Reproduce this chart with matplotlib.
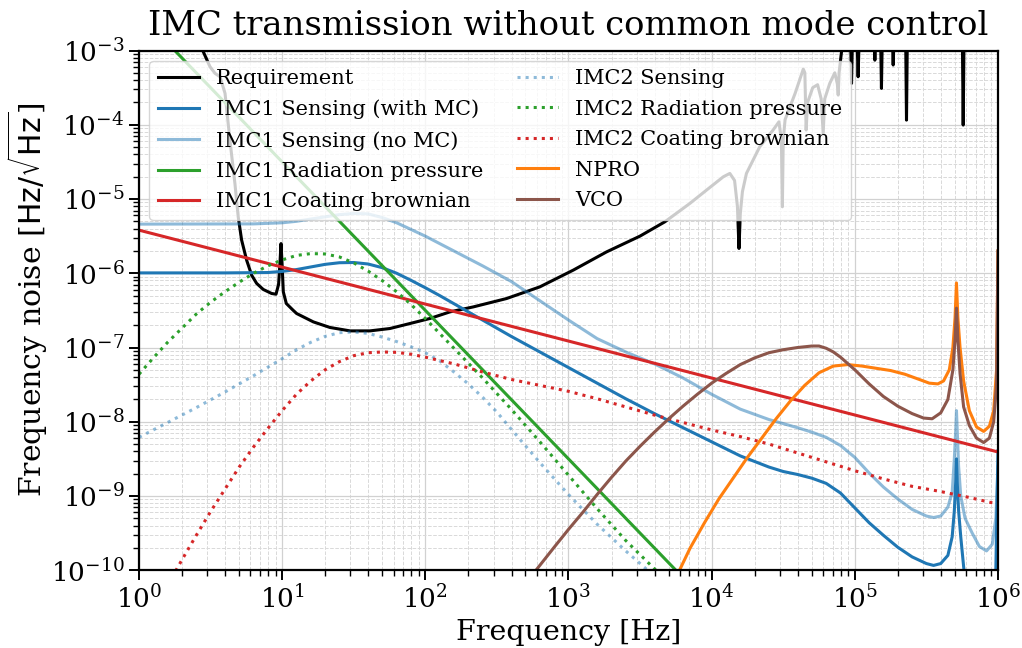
import numpy as np
import matplotlib
matplotlib.use("Agg")
import matplotlib.pyplot as plt

plt.rcParams["font.family"] = ["DejaVu Serif"]
plt.rcParams["mathtext.fontset"] = "dejavusans"

# All curves are given as (log10 frequency [Hz], log10 ASD [Hz/rtHz]) pairs.
req_lf = [0.40, 0.449, 0.496, 0.531, 0.566, 0.601, 0.635, 0.670, 0.693, 0.717,
          0.752, 0.787, 0.822, 0.868, 0.926, 0.957, 0.975, 0.985, 0.992, 1.000,
          1.008, 1.029, 1.076, 1.101, 1.218, 1.334, 1.474, 1.613, 1.753, 1.892,
          2.032, 2.172, 2.335, 2.568, 2.800, 3.033, 3.266, 3.499, 3.673, 3.848,
          3.964, 4.081, 4.127, 4.160, 4.180, 4.191, 4.200, 4.215, 4.243, 4.336,
          4.429, 4.470, 4.487, 4.494, 4.500, 4.513, 4.583, 4.640, 4.651, 4.660,
          4.670, 4.706, 4.740, 4.765, 4.779, 4.790, 4.825, 4.860, 4.878, 4.884,
          4.890, 4.920, 4.970, 4.977, 4.984, 5.015, 5.023, 5.031, 5.133, 5.140,
          5.147, 5.180, 5.186, 5.192, 5.262, 5.268, 5.274, 5.355, 5.361, 5.367,
          5.751, 5.757, 5.763, 6.000]
req_la = [-2.80, -3.016, -3.218, -3.307, -3.353, -3.577, -4.206, -4.790, -5.240, -5.554,
          -5.824, -6.026, -6.137, -6.218, -6.272, -6.282, -6.15, -5.85, -5.60, -5.90,
          -6.25, -6.407, -6.497, -6.542, -6.655, -6.730, -6.776, -6.776, -6.744, -6.677,
          -6.609, -6.520, -6.453, -6.340, -6.183, -5.958, -5.712, -5.500, -5.307, -5.059,
          -4.880, -4.701, -4.655, -4.75, -5.10, -5.666, -5.20, -4.90, -4.655, -4.296,
          -4.071, -3.96, -4.20, -5.105, -4.20, -3.93, -3.577, -3.25, -3.30, -4.071,
          -3.70, -3.50, -3.46, -3.65, -4.116, -3.65, -3.442, -3.30, -3.45, -3.600,
          -3.30, -2.80, -2.80, -3.442, -2.80, -2.80, -3.353, -2.80, -2.80, -3.13,
          -2.80, -2.80, -3.510, -2.80, -2.80, -3.195, -2.80, -2.80, -3.937, -2.80,
          -2.80, -4.004, -2.80, -2.80]

imc1_mc_lf = [0.0, 0.6, 0.9, 1.0, 1.1, 1.2, 1.3, 1.4, 1.5, 1.6,
              1.7, 1.8, 1.9, 2.0, 2.1, 2.2, 2.4, 2.6, 2.8, 3.0,
              3.2, 3.4, 3.6, 3.8, 4.0, 4.2, 4.4, 4.5, 4.6, 4.7,
              4.8, 4.9, 5.0, 5.1, 5.2, 5.3, 5.4, 5.5, 5.55, 5.6,
              5.65, 5.68, 5.695, 5.705, 5.710, 5.715, 5.725, 5.74, 5.76, 5.78,
              5.97, 5.985, 6.0]
imc1_mc_la = [-5.995, -5.995, -5.99, -5.975, -5.95, -5.915, -5.88, -5.858, -5.855, -5.875,
              -5.925, -6.00, -6.095, -6.195, -6.30, -6.41, -6.63, -6.85, -7.06, -7.27,
              -7.48, -7.69, -7.89, -8.08, -8.27, -8.46, -8.61, -8.67, -8.71, -8.76,
              -8.83, -8.96, -9.16, -9.36, -9.53, -9.69, -9.82, -9.91, -9.935, -9.91,
              -9.80, -9.55, -9.20, -8.80, -8.50, -8.80, -9.20, -9.55, -9.95, -10.3,
              -10.4, -10.0, -8.39]

imc1_nomc_lf = [0.0, 0.8, 1.0, 1.1, 1.2, 1.3, 1.4, 1.5, 1.6, 1.7,
                1.8, 1.9, 2.0, 2.1, 2.2, 2.4, 2.6, 2.8, 3.0, 3.2,
                3.4, 3.6, 3.8, 4.0, 4.2, 4.4, 4.6, 4.7, 4.8, 4.9,
                5.0, 5.1, 5.2, 5.3, 5.4, 5.5, 5.55, 5.6, 5.65, 5.68,
                5.695, 5.705, 5.710, 5.715, 5.725, 5.74, 5.77, 5.82, 5.87, 5.92,
                5.96, 5.985, 6.0]
imc1_nomc_la = [-5.338, -5.335, -5.32, -5.30, -5.27, -5.24, -5.21, -5.195, -5.20, -5.25,
                -5.32, -5.41, -5.50, -5.60, -5.70, -5.90, -6.11, -6.37, -6.63, -6.88,
                -7.06, -7.22, -7.41, -7.63, -7.83, -7.97, -8.08, -8.14, -8.21, -8.32,
                -8.48, -8.69, -8.88, -9.04, -9.18, -9.27, -9.29, -9.27, -9.15, -8.95,
                -8.50, -8.10, -7.85, -8.10, -8.60, -9.00, -9.30, -9.50, -9.68, -9.74,
                -9.65, -9.30, -8.60]

imc1_rp_lf = [0.0, 4.0]
imc1_rp_la = [-2.50, -10.50]

imc1_cb_lf = [0.0, 6.0]
imc1_cb_la = [-5.419, -8.407]

imc2_sens_lf = [0.0, 0.2, 0.4, 0.6, 0.8, 1.0, 1.1, 1.2, 1.3, 1.4,
                1.5, 1.6, 1.7, 1.8, 1.9, 2.0, 2.1, 2.2, 2.3, 2.4,
                2.5, 2.6, 2.8, 3.0, 3.2, 3.4, 3.6]
imc2_sens_la = [-8.21, -8.01, -7.81, -7.60, -7.38, -7.15, -7.03, -6.93, -6.85, -6.80,
                -6.79, -6.81, -6.86, -6.92, -6.99, -7.07, -7.18, -7.33, -7.49, -7.67,
                -7.87, -8.10, -8.55, -8.98, -9.38, -9.74, -10.08]

imc2_rp_lf = [0.0, 0.1, 0.2, 0.3, 0.4, 0.5, 0.6, 0.7, 0.8, 0.9,
              1.0, 1.1, 1.2, 1.3, 1.4, 1.5, 1.6, 1.7, 1.8, 1.9,
              2.0, 2.1, 2.2, 2.3, 2.4, 2.6, 2.8, 3.0, 3.2, 3.4,
              3.6, 3.7]
imc2_rp_la = [-7.36, -7.14, -6.93, -6.74, -6.55, -6.39, -6.25, -6.12, -6.00, -5.90,
              -5.82, -5.76, -5.735, -5.74, -5.78, -5.86, -5.97, -6.10, -6.25, -6.42,
              -6.61, -6.81, -7.01, -7.21, -7.41, -7.83, -8.27, -8.72, -9.17, -9.60,
              -9.98, -10.17]

imc2_cb_lf = [0.20, 0.3, 0.4, 0.5, 0.6, 0.7, 0.8, 0.9, 1.0, 1.1,
              1.2, 1.3, 1.4, 1.5, 1.6, 1.7, 1.8, 1.9, 2.0, 2.2,
              2.4, 2.6, 2.8, 3.0, 3.2, 3.4, 3.6, 3.8, 4.0, 4.2,
              4.4, 4.6, 4.8, 5.0, 5.2, 5.4, 5.6, 5.8, 6.0]
imc2_cb_la = [-10.2, -9.86, -9.53, -9.21, -8.91, -8.61, -8.34, -8.09, -7.85, -7.63,
              -7.45, -7.30, -7.19, -7.11, -7.07, -7.06, -7.065, -7.09, -7.13, -7.22,
              -7.33, -7.43, -7.51, -7.59, -7.69, -7.80, -7.91, -8.01, -8.11, -8.20,
              -8.30, -8.42, -8.54, -8.66, -8.77, -8.87, -8.94, -9.02, -9.11]

npro_lf = [3.70, 3.778, 3.85, 3.95, 4.05, 4.15, 4.25, 4.35, 4.45, 4.55,
           4.65, 4.75, 4.85, 4.95, 5.05, 5.15, 5.25, 5.35, 5.45, 5.52,
           5.58, 5.62, 5.66, 5.685, 5.700, 5.710, 5.720, 5.735, 5.76, 5.80,
           5.85, 5.90, 5.94, 5.97, 5.99, 6.0]
npro_la = [-10.35, -9.99, -9.70, -9.36, -9.04, -8.76, -8.48, -8.22, -7.96, -7.72,
           -7.51, -7.34, -7.25, -7.23, -7.25, -7.28, -7.31, -7.36, -7.43, -7.48,
           -7.49, -7.45, -7.30, -7.00, -6.60, -6.13, -6.60, -7.00, -7.45, -7.85,
           -8.07, -8.13, -8.06, -7.85, -7.30, -5.70]

vco_lf = [2.70, 2.777, 2.9, 3.0, 3.1, 3.2, 3.3, 3.4, 3.5, 3.6,
          3.7, 3.8, 3.9, 4.0, 4.1, 4.2, 4.3, 4.4, 4.5, 4.6,
          4.7, 4.75, 4.8, 4.85, 4.9, 5.0, 5.1, 5.2, 5.3, 5.4,
          5.48, 5.54, 5.60, 5.65, 5.685, 5.70, 5.710, 5.720, 5.735, 5.76,
          5.80, 5.85, 5.90, 5.94, 5.97, 5.99, 6.0]
vco_la = [-10.2, -9.99, -9.69, -9.45, -9.22, -8.98, -8.75, -8.53, -8.33, -8.14,
          -7.96, -7.79, -7.63, -7.48, -7.35, -7.23, -7.14, -7.07, -7.03, -7.00,
          -6.98, -6.98, -7.01, -7.06, -7.13, -7.30, -7.49, -7.66, -7.79, -7.89,
          -7.95, -7.96, -7.88, -7.70, -7.30, -6.90, -6.47, -6.90, -7.35, -7.80,
          -8.05, -8.22, -8.28, -8.22, -8.00, -7.50, -5.70]

curves = [
    ("Requirement", req_lf, req_la, dict(color="black", ls="-")),
    ("IMC1 Sensing (with MC)", imc1_mc_lf, imc1_mc_la, dict(color="C0", ls="-")),
    ("IMC1 Sensing (no MC)", imc1_nomc_lf, imc1_nomc_la, dict(color="C0", ls="-", alpha=0.5)),
    ("IMC1 Radiation pressure", imc1_rp_lf, imc1_rp_la, dict(color="C2", ls="-")),
    ("IMC1 Coating brownian", imc1_cb_lf, imc1_cb_la, dict(color="C3", ls="-")),
    ("IMC2 Sensing", imc2_sens_lf, imc2_sens_la, dict(color="C0", ls=":", alpha=0.5)),
    ("IMC2 Radiation pressure", imc2_rp_lf, imc2_rp_la, dict(color="C2", ls=":")),
    ("IMC2 Coating brownian", imc2_cb_lf, imc2_cb_la, dict(color="C3", ls=":")),
    ("NPRO", npro_lf, npro_la, dict(color="C1", ls="-")),
    ("VCO", vco_lf, vco_la, dict(color="C5", ls="-")),
]

fig = plt.figure(figsize=(10.22, 6.48), dpi=100)
ax = fig.add_axes([0.136, 0.120, 0.8405, 0.802])

for label, lf, la, style in curves:
    ax.loglog(10 ** np.asarray(lf), 10 ** np.asarray(la), lw=2.2, label=label, **style)

ax.set_xlim(1, 1e6)
ax.set_ylim(1e-10, 1e-3)
ax.grid(which="major", color="0.82", lw=0.9, ls="-")
ax.grid(which="minor", color="0.85", lw=0.7, ls="--")
ax.set_axisbelow(True)

for sp in ax.spines.values():
    sp.set_linewidth(1.6)
ax.tick_params(which="major", length=7, width=1.4, labelsize=19)
ax.tick_params(which="minor", length=4, width=1.0)

ax.set_xlabel("Frequency [Hz]", fontsize=20.5)
ax.set_ylabel(r"Frequency noise [$\mathrm{Hz}/\sqrt{\mathrm{Hz}}$]", fontsize=21.5)
ax.yaxis.set_label_coords(-0.104, 0.52)
ax.set_title("IMC transmission without common mode control", fontsize=24.4, pad=11)

ax.legend(loc="upper left", ncol=2, fontsize=15, labelspacing=0.55,
          columnspacing=1.6)

fig.savefig("out.png", dpi=100)
